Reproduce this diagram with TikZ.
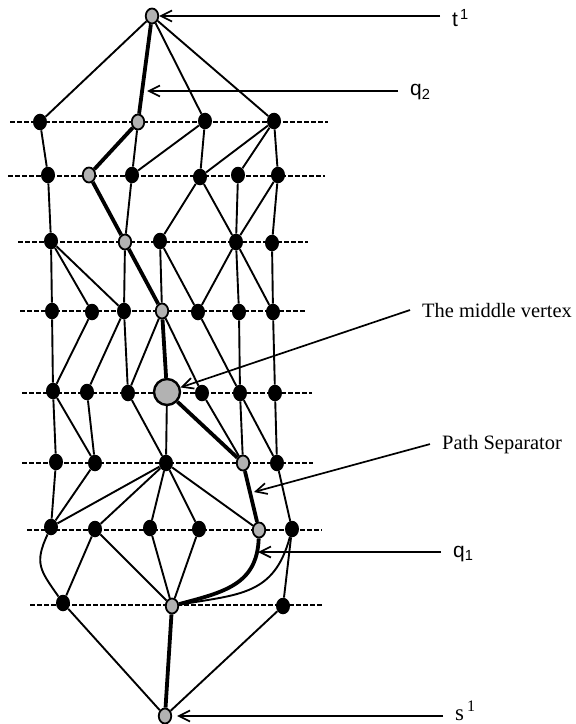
\documentclass[tikz,border=0pt]{standalone}
\usepackage{fontspec}
\setmainfont{Liberation Serif}
\newfontfamily\labsans{Liberation Sans}
\usetikzlibrary{shapes.geometric,arrows.meta}

\begin{document}
\begin{tikzpicture}[x=1bp, y=-1bp,
        vert/.style={ellipse, fill=black, inner sep=0pt, minimum width=14bp, minimum height=16.5bp},
        sepv/.style={ellipse, draw, line width=1.8bp, fill=black!30, inner sep=0pt, minimum width=12.5bp, minimum height=15bp},
        midv/.style={circle, draw, line width=2.4bp, fill=black!30, inner sep=0pt, minimum size=26bp},
        layer/.style={line width=2bp, dash pattern=on 4.5bp off 2.5bp},
        link/.style={line width=1.9bp},
        seplink/.style={line width=3.8bp},
        ptr/.style={line width=1.7bp, -{Straight Barb[length=11bp,width=11bp]}},
        lab/.style={inner xsep=12bp, inner ysep=0pt, anchor=base west, font=\fontsize{20.5}{24}\selectfont},
        slab/.style={lab, font=\labsans\fontsize{21}{24}\selectfont}]
    \useasboundingbox (0,0) rectangle (576,724);
    \foreach \y/\l/\r in {122/10/328, 176/8/325, 242/18/308, 311/20/307,
                          393/22/312, 463/22/313, 530/27/322, 605/30/322}
        \draw[layer] (\l,\y) -- (\r,\y);
    \foreach \n/\x/\y in {a1/40/122, a3/205/121, a4/274/121,
                          b1/48/175, b3/132/175, b4/200/177, b5/238/175, b6/278/175,
                          c1/51/241, c3/160/241, c4/236/242, c5/272/243,
                          d1/52/311, d2/92/312, d3/124/311, d5/198/312, d6/239/312, d7/273/312,
                          e1/53/391, e2/87/392, e3/128/393, e5/202/393, e6/240/393, e7/275/393,
                          f1/56/462, f2/95/463, f3/166/463, f5/277/463,
                          g1/51/527, g2/95/529, g3/150/528, g4/199/529, g6/292/529,
                          h1/63/603, h3/283/606}
        \node[vert] (\n) at (\x,\y) {};
    \foreach \n/\x/\y in {t/152/16, a2/138/122, b2/89/175, c2/125/242, d4/162/311,
                          f4/243/463, g5/259/530, h2/172/606, s/165/716}
        \node[sepv] (\n) at (\x,\y) {};
    \node[midv] (e4) at (167,392) {};
    \foreach \u/\v in {t/a1, t/a3, t/a4,
                       a1/b1, a2/b3, a3/b3, a3/b4, a4/b4, a4/b5, a4/b6,
                       b1/c1, b3/c2, b4/c3, b4/c4, b5/c4, b6/c4, b6/c5,
                       c1/d1, c1/d2, c1/d3, c2/d3, c3/d4, c3/d5, c4/d5, c4/d6, c4/d7, c5/d7,
                       d1/e1, d2/e1, d3/e2, d3/e3, d4/e3, d4/e5, d5/e6, d6/e6, d7/e7,
                       e1/f1, e1/f2, e2/f2, e3/f3, e4/f3, e5/f4, e6/f4, e6/f5, e7/f5,
                       f1/g1, f2/g1, f3/g1, f3/g2, f3/g3, f3/g4, f3/g5, f5/g6,
                       g2/h1, g2/h2, g3/h2, g4/h2, g6/h3, h1/s, h3/s}
        \draw[link] (\u) -- (\v);
    \foreach \u/\v in {t/a2, a2/b2, b2/c2, c2/d4, d4/e4, e4/f4, f4/g5, h2/s}
        \draw[seplink] (\u) -- (\v);
    \draw[link] (g1) to[out=245, in=125, looseness=1.3] (h1);
    \draw[link] (g6) to[out=255, in=10, looseness=1.2] (h2);
    \draw[seplink] (g5) to[out=268, in=15, looseness=1.15] (h2);
    % labels and pointers
    \coordinate (q2tip) at (147,91);
    \coordinate (pstip) at (254,492);
    \coordinate (q1tip) at (258,552);
    \node[slab] (tlab) at (440,27) {t\hspace{2bp}\textsuperscript{1}};
    \node[slab] (q2lab) at (398,96) {q\textsubscript{2}};
    \node[lab] (midlab) at (410,317) {The middle vertex};
    \node[lab] (pslab) at (430,449) {Path Separator};
    \node[slab] (q1lab) at (441,557) {q\textsubscript{1}};
    \node[lab, font=\fontsize{23}{27}\selectfont] (slab) at (443,720) {s\hspace{3bp}\textsuperscript{1}};
    \draw[ptr] (tlab.west |- t) -- (t);
    \draw[ptr] (q2lab.west |- q2tip) -- (q2tip);
    \draw[ptr] (midlab.west) -- (e4);
    \draw[ptr] (pslab.west) -- (pstip);
    \draw[ptr] (q1lab.west |- q1tip) -- (q1tip);
    \draw[ptr, shorten >=5bp] (slab.west |- s) -- (s);
\end{tikzpicture}
\end{document}
